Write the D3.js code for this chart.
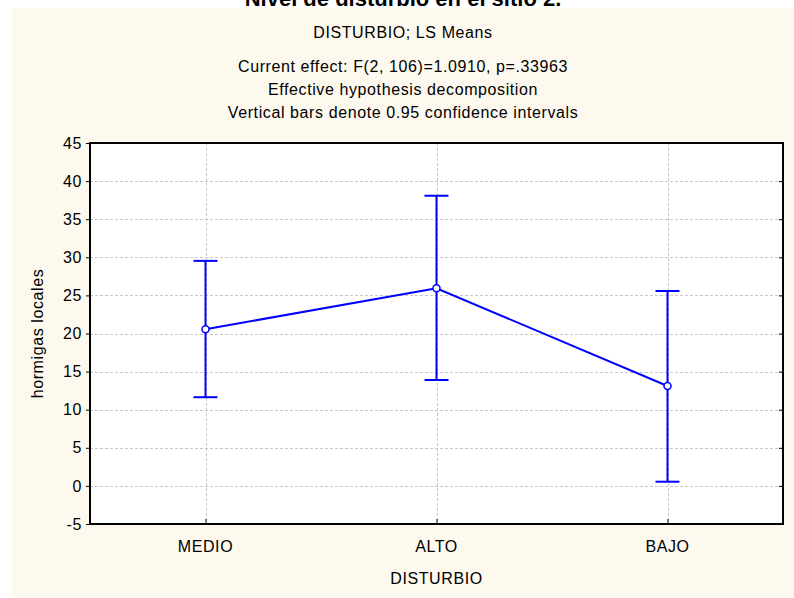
<!DOCTYPE html>
<html>
<head>
<meta charset="utf-8">
<script src="https://cdn.jsdelivr.net/npm/d3@7"></script>
<style>
  body { margin: 0; background: #fff; }
  svg { display: block; }
  text { font-family: Arial, "Liberation Sans", sans-serif; fill: #000; letter-spacing: 0.6px; }
</style>
</head>
<body>
<div id="app"></div>
<script>
const categories = ['MEDIO', 'ALTO', 'BAJO'];
const means = [20.56, 25.94, 13.11];
const lower = [11.64, 13.9, 0.55];
const upper = [29.53, 38.08, 25.58];
const yTicks = [-5, 0, 5, 10, 15, 20, 25, 30, 35, 40, 45];
const titleLines = [
  'Current effect: F(2, 106)=1.0910, p=.33963',
  'Effective hypothesis decomposition',
  'Vertical bars denote 0.95 confidence intervals',
];

const width = 794;
const height = 598;
const margin = {
  top: 143,
  right: 11,
  bottom: 74,
  left: 90,
};
const innerW = width - margin.left - margin.right;
const innerH = height - margin.top - margin.bottom;
const blue = '#0000ff';
const capHalf = 12;
const fontSize = 16;

const svg = d3.select('#app')
  .append('svg')
  .attr('width', width)
  .attr('height', height);

// cream panel
svg.append('rect')
  .attr('x', 12)
  .attr('y', 8)
  .attr('width', width - 12)
  .attr('height', height - 8)
  .attr('fill', '#fdf9ee');

const cx = (12 + width) / 2;

// big title, mostly cut off at the top
svg.append('text')
  .attr('x', cx)
  .attr('y', 6)
  .attr('text-anchor', 'middle')
  .attr('font-size', 22)
  .attr('font-weight', 'bold')
  .style('letter-spacing', '0px')
  .text('Nivel de disturbio en el sitio 2.');

svg.append('text')
  .attr('x', cx)
  .attr('y', 38)
  .attr('text-anchor', 'middle')
  .attr('font-size', fontSize)
  .text('DISTURBIO; LS Means');

svg.selectAll('.subTitle')
  .data(titleLines)
  .enter()
  .append('text')
  .attr('class', 'subTitle')
  .attr('x', cx)
  .attr('y', (d, i) => 72 + i * 23)
  .attr('text-anchor', 'middle')
  .attr('font-size', fontSize)
  .text(d => d);

const g = svg.append('g')
  .attr('transform', `translate(${margin.left},${margin.top})`);

g.append('rect')
  .attr('width', innerW)
  .attr('height', innerH)
  .attr('fill', '#fff');

const x = d3.scalePoint()
  .domain(categories)
  .range([0, innerW])
  .padding(0.5);

const y = d3.scaleLinear()
  .domain([-5, 45])
  .range([innerH, 0]);

// grid
g.selectAll('.hGrid')
  .data(yTicks.slice(1, -1))
  .enter()
  .append('line')
  .attr('class', 'hGrid')
  .attr('x1', 0)
  .attr('x2', innerW)
  .attr('y1', d => Math.round(y(d)) + 0.5)
  .attr('y2', d => Math.round(y(d)) + 0.5)
  .attr('stroke', '#c8c8c8')
  .attr('stroke-dasharray', '3,2');

g.selectAll('.vGrid')
  .data(categories)
  .enter()
  .append('line')
  .attr('class', 'vGrid')
  .attr('x1', d => Math.round(x(d)) + 0.5)
  .attr('x2', d => Math.round(x(d)) + 0.5)
  .attr('y1', 0)
  .attr('y2', innerH)
  .attr('stroke', '#c8c8c8')
  .attr('stroke-dasharray', '3,2');

// axes
const yAxis = g.append('g')
  .call(d3.axisLeft(y).tickValues(yTicks).tickSize(4).tickPadding(4)
    .tickFormat(d => String(d)));
yAxis.select('.domain').remove();
yAxis.selectAll('text')
  .attr('font-size', fontSize)
  .style('font-family', 'Arial, "Liberation Sans", sans-serif');

const yAxisR = g.append('g')
  .attr('transform', `translate(${innerW},0)`)
  .call(d3.axisLeft(y).tickValues(yTicks).tickSize(4).tickFormat(''));
yAxisR.select('.domain').remove();

const xAxis = g.append('g')
  .attr('transform', `translate(0,${innerH})`)
  .call(d3.axisTop(x).tickSize(5).tickFormat(''));
xAxis.select('.domain').remove();

g.selectAll('.catLabel')
  .data(categories)
  .enter()
  .append('text')
  .attr('class', 'catLabel')
  .attr('x', d => x(d))
  .attr('y', innerH + 28)
  .attr('text-anchor', 'middle')
  .attr('font-size', fontSize)
  .text(d => d);

// border
g.append('rect')
  .attr('width', innerW)
  .attr('height', innerH)
  .attr('fill', 'none')
  .attr('stroke', '#000')
  .attr('stroke-width', 2);

// axis titles
svg.append('text')
  .attr('x', margin.left + innerW / 2)
  .attr('y', 584)
  .attr('text-anchor', 'middle')
  .attr('font-size', fontSize)
  .text('DISTURBIO');

svg.append('text')
  .attr('transform', `translate(43,${margin.top + innerH / 2}) rotate(-90)`)
  .attr('text-anchor', 'middle')
  .attr('font-size', fontSize)
  .text('hormigas locales');

// error bars
const points = categories.map((c, i) => ({
  cat: c, mean: means[i], lo: lower[i], hi: upper[i],
}));

const bars = g.selectAll('.errBar')
  .data(points)
  .enter()
  .append('g')
  .attr('class', 'errBar');

bars.append('line')
  .attr('x1', d => x(d.cat))
  .attr('x2', d => x(d.cat))
  .attr('y1', d => y(d.lo))
  .attr('y2', d => y(d.hi))
  .attr('stroke', blue)
  .attr('stroke-width', 2);

bars.append('line')
  .attr('x1', d => x(d.cat) - capHalf)
  .attr('x2', d => x(d.cat) + capHalf)
  .attr('y1', d => y(d.hi))
  .attr('y2', d => y(d.hi))
  .attr('stroke', blue)
  .attr('stroke-width', 2);

bars.append('line')
  .attr('x1', d => x(d.cat) - capHalf)
  .attr('x2', d => x(d.cat) + capHalf)
  .attr('y1', d => y(d.lo))
  .attr('y2', d => y(d.lo))
  .attr('stroke', blue)
  .attr('stroke-width', 2);

// mean line
g.append('path')
  .datum(points)
  .attr('fill', 'none')
  .attr('stroke', blue)
  .attr('stroke-width', 2)
  .attr('d', d3.line().x(d => x(d.cat)).y(d => y(d.mean)));

g.selectAll('.meanPt')
  .data(points)
  .enter()
  .append('circle')
  .attr('class', 'meanPt')
  .attr('cx', d => x(d.cat))
  .attr('cy', d => y(d.mean))
  .attr('r', 3.5)
  .attr('fill', '#fff')
  .attr('stroke', blue)
  .attr('stroke-width', 1.5);
</script>
</body>
</html>
